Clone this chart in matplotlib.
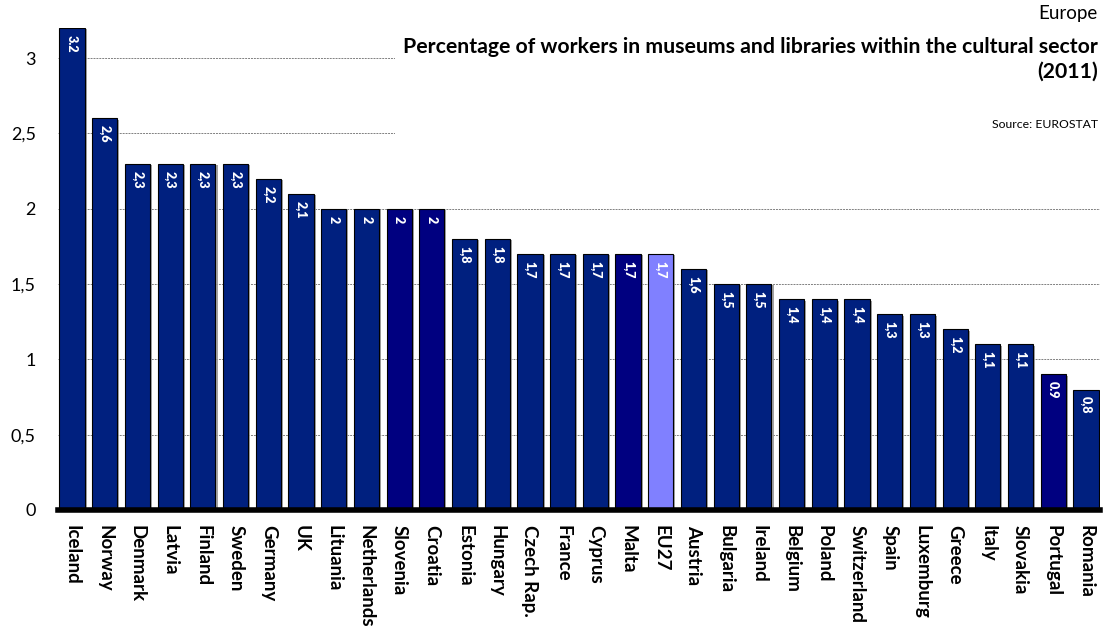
import matplotlib
matplotlib.use("Agg")
import matplotlib.pyplot as plt
from matplotlib.patches import Rectangle
from matplotlib.ticker import FuncFormatter
import matplotlib.patheffects as pe

countries = ["Iceland", "Norway", "Denmark", "Latvia", "Finland", "Sweden", "Germany", "UK",
             "Lituania", "Netherlands", "Slovenia", "Croatia", "Estonia", "Hungary", "Czech Rap.",
             "France", "Cyprus", "Malta", "EU27", "Austria", "Bulgaria", "Ireland", "Belgium",
             "Poland", "Switzerland", "Spain", "Luxemburg", "Greece", "Italy", "Slovakia",
             "Portugal", "Romania"]
values = [3.2, 2.6, 2.3, 2.3, 2.3, 2.3, 2.2, 2.1, 2.0, 2.0, 2.0, 2.0, 1.8, 1.8, 1.7,
          1.7, 1.7, 1.7, 1.7, 1.6, 1.5, 1.5, 1.4, 1.4, 1.4, 1.3, 1.3, 1.2, 1.1, 1.1, 0.9, 0.8]
value_labels = ["3.2", "2,6", "2,3", "2,3", "2,3", "2,3", "2,2", "2,1", "2", "2", "2", "2",
                "1,8", "1,8", "1,7", "1,7", "1,7", "1,7", "1,7", "1,6", "1,5", "1,5", "1,4",
                "1,4", "1,4", "1,3", "1,3", "1,2", "1,1", "1,1", "0.9", "0,8"]
dark_group = ["Slovenia", "Croatia", "Malta", "Portugal"]
highlight = ["EU27"]
yticks = [0, 0.5, 1, 1.5, 2, 2.5, 3]

C_MAIN = "#00207F"
C_DARK = "#000080"
C_HI = "#8080FF"

plt.rcParams['font.family'] = ['Lato', 'DejaVu Sans']

fig = plt.figure(figsize=(11.05, 6.38), dpi=100)
W, H = 1105, 638
ax = fig.add_axes([58 / W, 128 / H, (1100 - 58) / W, (510 - 28) / H])

n = len(countries)
colors = [C_HI if c in highlight else (C_DARK if c in dark_group else C_MAIN) for c in countries]
x = list(range(n))
bars = ax.bar(x, values, width=0.77, color=colors, edgecolor="black", linewidth=0.8, zorder=3)
for b in bars:
    b.set_path_effects([pe.SimplePatchShadow(offset=(1.5, -1), shadow_rgbFace="#999999", alpha=0.9), pe.Normal()])

for xi, v, lab in zip(x, values, value_labels):
    ax.annotate(lab, (xi, v), xytext=(0, -5), textcoords="offset points",
                ha="center", va="top", rotation=-90, color="white",
                fontsize=9, fontweight="heavy", zorder=4)

ax.set_xlim(-0.43, n - 1 + 0.43)
ax.set_ylim(0, 3.2)
ax.set_yticks(yticks)
ax.yaxis.set_major_formatter(FuncFormatter(lambda v, p: ("%g" % v).replace(".", ",")))
ax.tick_params(axis="y", length=0, labelsize=13, pad=16)
ax.set_xticks(x)
ax.set_xticklabels(countries, rotation=-90, fontsize=13.5, fontweight="bold", va="top", ha="center")
ax.tick_params(axis="x", length=0, pad=11)

ax.grid(axis="y", color="#808080", linestyle=(0, (2, 1)), linewidth=0.7)
ax.set_axisbelow(True)
for s in ["top", "right", "left"]:
    ax.spines[s].set_visible(False)
ax.spines["bottom"].set_linewidth(4)
ax.spines["bottom"].set_zorder(5)

# white box behind the title area
fig.patches.append(Rectangle((395 / W, 1 - 150 / H), (W - 395) / W, 150 / H,
                             transform=fig.transFigure, facecolor="white", edgecolor="none", zorder=2))

fig.text(1098 / W, 1 - 13 / H, "Europe", ha="right", va="center", fontsize=13.5, zorder=5)
fig.text(1098 / W, 1 - 59 / H, "Percentage of workers in museums and libraries within the cultural sector\n(2011)",
         ha="right", va="center", fontsize=15.3, fontweight="bold", linespacing=1.3, multialignment="right", zorder=5)
fig.text(1098 / W, 1 - 125 / H, "Source: EUROSTAT", ha="right", va="center", fontsize=8.8, zorder=5)

fig.savefig("out.png", dpi=100)
